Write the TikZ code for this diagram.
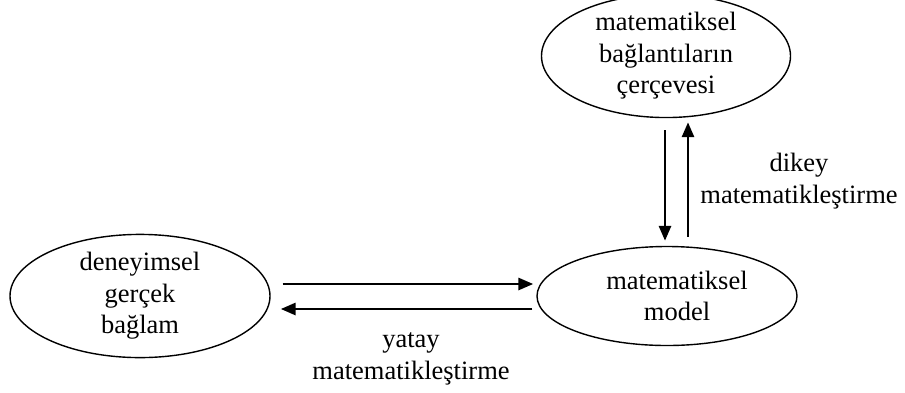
\documentclass[tikz,border=0pt]{standalone}
\usepackage{fontspec}
\setmainfont{Liberation Serif}
\usetikzlibrary{arrows.meta,shapes.geometric}
\begin{document}
\begin{tikzpicture}[x=1pt,y=-1pt,
  every node/.style={font=\fontsize{26.5}{31.5}\selectfont, align=center},
  bubble/.style={draw, ellipse, line width=1.4pt, inner sep=0pt},
  arr/.style={line width=2.9pt, -{Triangle[length=15pt,width=12pt]}},
  caption/.style={inner sep=0pt}]
  \useasboundingbox (0,0) rectangle (905,392);

  % the three ellipses
  \node[bubble, minimum width=249pt, minimum height=105pt] (frame) at (666,56)
    {matematiksel\\bağlantıların\\çerçevesi};
  \node[bubble, minimum width=260pt, minimum height=98pt] (context) at (140,296)
    {deneyimsel\\gerçek\\bağlam};
  \node[bubble, minimum width=260pt, minimum height=99pt] (model) at (667,296)
    {\hspace*{20pt}matematiksel\\\hspace*{20pt}model};

  % horizontal mathematisation
  \draw[arr] ([xshift=12pt,yshift=12pt]context.east) -- ([xshift=-3pt,yshift=12pt]model.west);
  \draw[arr] ([xshift=-4pt,yshift=-13pt]model.west) -- ([xshift=10pt,yshift=-13pt]context.east);

  % vertical mathematisation
  \draw[arr] ([xshift=-1pt,yshift=-12pt]frame.south) -- ([xshift=-1pt,yshift=5pt]frame.south |- model.north);
  \draw[arr] ([xshift=22pt,yshift=9pt]frame.south |- model.north) -- ([xshift=22pt,yshift=-4pt]frame.south);

  % captions
  \node[caption] (vlabel) at (799,181) {dikey\\matematikleştirme};
  \node[caption] (hlabel) at (411,359) {yatay\\matematikleştirme};
\end{tikzpicture}
\end{document}
